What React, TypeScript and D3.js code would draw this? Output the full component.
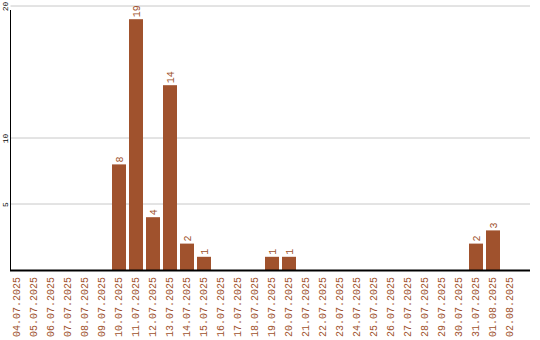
import React from "react";
import * as d3 from "d3";

const dates = [
  "04.07.2025","05.07.2025","06.07.2025","07.07.2025","08.07.2025","09.07.2025",
  "10.07.2025","11.07.2025","12.07.2025","13.07.2025","14.07.2025","15.07.2025",
  "16.07.2025","17.07.2025","18.07.2025","19.07.2025","20.07.2025","21.07.2025",
  "22.07.2025","23.07.2025","24.07.2025","25.07.2025","26.07.2025","27.07.2025",
  "28.07.2025","29.07.2025","30.07.2025","31.07.2025","01.08.2025","02.08.2025",
];
const counts = [0,0,0,0,0,0,8,19,4,14,2,1,0,0,0,1,1,0,0,0,0,0,0,0,0,0,0,2,3,0];
const yTicks = [5, 10, 20];

const W = 540, H = 340;
const color = "#A0522D";
const font = "'Liberation Mono', 'Courier New', monospace";

export default function App() {
  const x = d3.scaleBand<string>().domain(dates).range([8.5, 518.5])
    .paddingInner(3 / 17).paddingOuter(1.5 / 17);
  const y = d3.scaleLinear().domain([0, 20]).range([270, 6]);
  const left = 10.5, right = 530;
  return (
    <svg width={W} height={H} style={{ position: "absolute", left: 0, top: 0, background: "#fff" }}>
      {yTicks.map((t) => (
        <g key={t}>
          <line x1={left} x2={right} y1={y(t)} y2={y(t)} stroke="#c8c8c8" strokeWidth={1} />
          <text transform={`translate(5,${y(t) + 0.5}) rotate(-90)`} textAnchor="middle" dy="0.35em"
            fontFamily={font} fontSize={8} fill="#000">{t}</text>
        </g>
      ))}
      {dates.map((d, i) => counts[i] > 0 ? (
        <g key={d}>
          <rect x={x(d)} y={y(counts[i])} width={x.bandwidth()} height={y(0) - y(counts[i])} fill={color} />
          <text transform={`translate(${(x(d) as number) + x.bandwidth() / 2},${y(counts[i]) - 2}) rotate(-90)`}
            textAnchor="start" dy="0.35em" fontFamily={font} fontSize={10} fill={color}>{counts[i]}</text>
        </g>
      ) : null)}
      <line x1={left} x2={left} y1={10} y2={270} stroke="#000" strokeWidth={1} />
      <line x1={10} x2={right} y1={270.5} y2={270.5} stroke="#000" strokeWidth={2} />
      {dates.map((d) => (
        <text key={d} transform={`translate(${(x(d) as number) + x.bandwidth() / 2 - 1},277) rotate(-90)`}
          textAnchor="end" dy="0.35em" fontFamily={font} fontSize={10} fill={color}>{d}</text>
      ))}
    </svg>
  );
}
